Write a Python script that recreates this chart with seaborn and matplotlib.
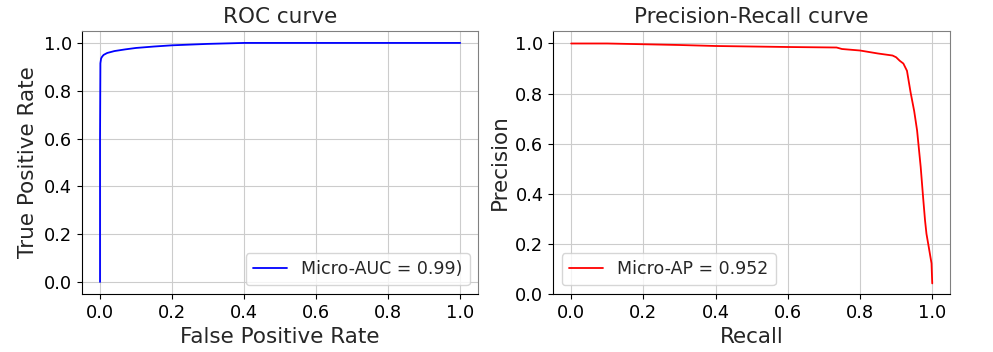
import numpy as np
import pandas as pd
import seaborn as sns
import matplotlib
matplotlib.use('Agg')
import matplotlib.pyplot as plt

# ROC curve points (false positive rate, true positive rate)
roc_fpr = [0.0, 0.0, 0.001, 0.003, 0.006, 0.01, 0.02, 0.04, 0.07, 0.1, 0.15, 0.2, 0.3, 0.4, 0.6, 0.8, 1.0]
roc_tpr = [0.0, 0.6, 0.915, 0.935, 0.943, 0.95, 0.958, 0.966, 0.973, 0.979, 0.985, 0.99, 0.996, 1.0, 1.0, 1.0, 1.0]

# Precision-Recall curve points
pr_recall = [0.0, 0.1, 0.2, 0.3, 0.4, 0.5, 0.6, 0.735, 0.75, 0.8, 0.85, 0.89, 0.9, 0.91, 0.92, 0.93,
             0.94, 0.95, 0.958, 0.968, 0.975, 0.98, 0.984, 0.99, 0.998, 1.0]
pr_precision = [1.0, 1.0, 0.997, 0.994, 0.99, 0.988, 0.986, 0.984, 0.978, 0.972, 0.96, 0.952, 0.945,
                0.931, 0.92, 0.891, 0.805, 0.73, 0.653, 0.507, 0.38, 0.294, 0.24, 0.19, 0.122, 0.042]

roc_label = 'Micro-AUC = 0.99)'
pr_label = 'Micro-AP = 0.952'


def style_axes(ax):
    ax.grid(True, color='#cccccc', linewidth=0.8)
    ax.set_axisbelow(True)
    ax.spines['left'].set_color('black')
    ax.spines['bottom'].set_color('black')
    ax.spines['top'].set_color('#808080')
    ax.spines['right'].set_color('#808080')
    ax.tick_params(labelsize=12.8, colors='black')


def main():
    sns.set_style('ticks')
    fig = plt.figure(figsize=(9.93, 3.52), dpi=100)
    ax1 = fig.add_axes([0.0826, 0.165, 0.399, 0.747])
    ax2 = fig.add_axes([0.557, 0.165, 0.400, 0.747])

    roc = pd.DataFrame({'fpr': roc_fpr, 'tpr': roc_tpr})
    sns.lineplot(data=roc, x='fpr', y='tpr', ax=ax1, color='blue', sort=False,
                 estimator=None, label=roc_label, linewidth=1.3)
    ax1.set_xlim(-0.05, 1.05)
    ax1.set_ylim(-0.05, 1.05)
    ax1.set_title('ROC curve', fontsize=15.5)
    ax1.set_xlabel('False Positive Rate', fontsize=15.5)
    ax1.set_ylabel('True Positive Rate', fontsize=15.5)
    ax1.legend(loc='lower right', fontsize=12.5)
    style_axes(ax1)

    pr = pd.DataFrame({'recall': pr_recall, 'precision': pr_precision})
    sns.lineplot(data=pr, x='recall', y='precision', ax=ax2, color='red', sort=False,
                 estimator=None, label=pr_label, linewidth=1.3)
    ax2.set_xlim(-0.05, 1.05)
    ax2.set_ylim(0.0, 1.05)
    ax2.set_title('Precision-Recall curve', fontsize=15.5)
    ax2.set_xlabel('Recall', fontsize=15.5)
    ax2.set_ylabel('Precision', fontsize=15.5)
    ax2.legend(loc='lower left', fontsize=12.5)
    style_axes(ax2)

    fig.savefig('out.png', dpi=100)


if __name__ == '__main__':
    main()
